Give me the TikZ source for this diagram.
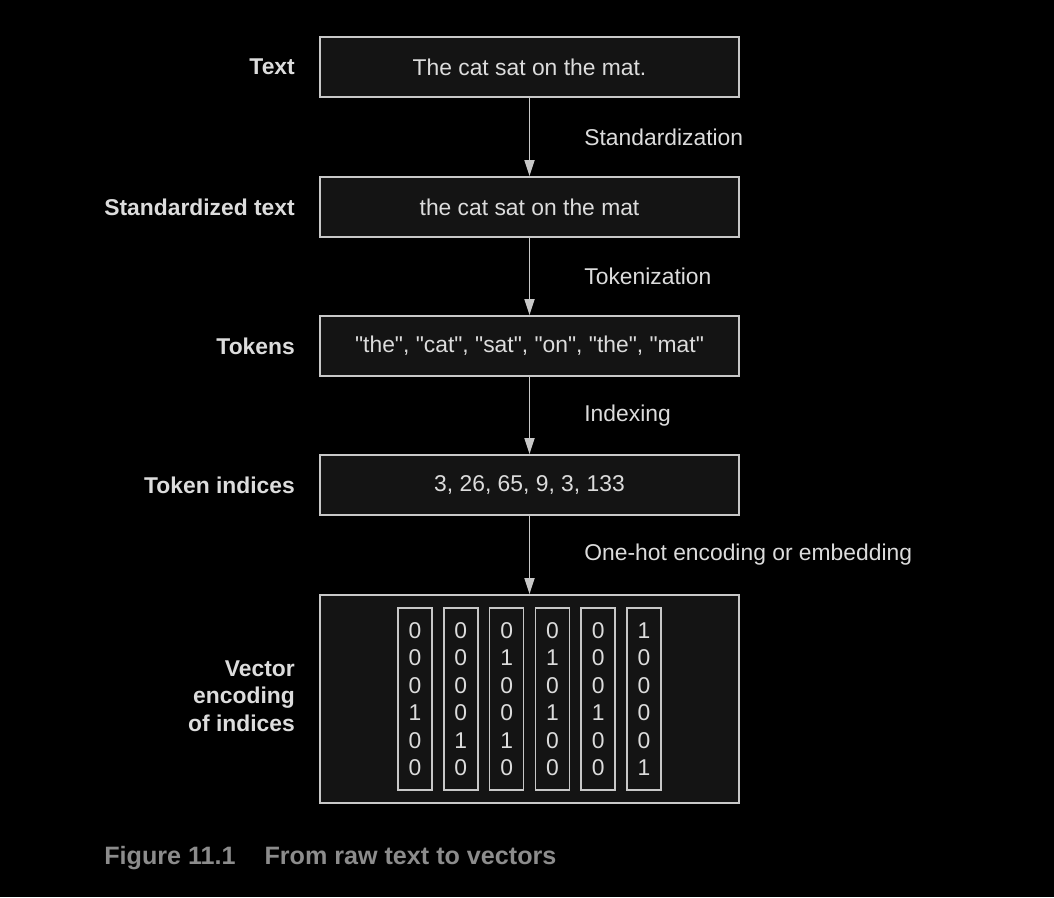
\documentclass[tikz,border=0pt]{standalone}
\usepackage{fontspec}
\setmainfont{Liberation Sans}
\usepackage{tikz}
\usetikzlibrary{arrows.meta, positioning}
\definecolor{boxfill}{HTML}{141414}
\definecolor{boxline}{HTML}{C8C8C8}
\definecolor{textgray}{HTML}{DCDCDC}
\definecolor{capgray}{HTML}{8C8C8C}

\begin{document}
\begin{tikzpicture}[
  stagebox/.style={rectangle, draw=boxline, fill=boxfill, line width=1pt, minimum width=8.38cm, minimum height=1.2cm, text=textgray, font=\fontsize{13}{15.6}\selectfont},
  sidelabel/.style={inner sep=0pt, text=textgray, font=\fontsize{13}{15.6}\selectfont\bfseries, align=right},
  steplabel/.style={inner sep=0pt, text=textgray, font=\fontsize{13}{15.6}\selectfont},
  onehot/.style={rectangle, draw=boxline, line width=1pt, minimum width=0.68cm, minimum height=3.64cm, inner sep=0pt, text=textgray, align=center, font=\fontsize{13}{15.6}\selectfont},
  arrow/.style={-{Triangle[length=0.32cm, width=0.2cm]}, line width=1pt, draw=boxline}
]
  \fill[black] (0,0) rectangle (21.08,-17.94);
  \useasboundingbox (0,0) rectangle (21.08,-17.94);

  \node[stagebox] (t1) at (10.59,-1.34) {The cat sat on the mat.};
  \node[stagebox] (t2) at (10.59,-4.14) {the cat sat on the mat};
  \node[stagebox] (t3) at (10.59,-6.92) {\textquotedbl the\textquotedbl, \textquotedbl cat\textquotedbl, \textquotedbl sat\textquotedbl, \textquotedbl on\textquotedbl, \textquotedbl the\textquotedbl, \textquotedbl mat\textquotedbl};
  \node[stagebox] (t4) at (10.59,-9.70) {3, 26, 65, 9, 3, 133};
  \node[stagebox, minimum height=4.16cm] (t5) at (10.59,-13.98) {};

  % one-hot columns
  \foreach \a/\b/\c/\d/\e/\f [count=\i from 0] in {0/0/0/1/0/0, 0/0/0/0/1/0, 0/1/0/0/1/0, 0/1/0/1/0/0, 0/0/0/1/0/0, 1/0/0/0/0/1}
    \node[onehot] (v\i) at (8.30+0.916*\i,-13.98) {\a\\\b\\\c\\\d\\\e\\\f};

  \node[sidelabel, left=0.48cm of t1] (l1) {Text};
  \node[sidelabel, left=0.48cm of t2] (l2) {Standardized text};
  \node[sidelabel, left=0.48cm of t3] (l3) {Tokens};
  \node[sidelabel, left=0.48cm of t4] (l4) {Token indices};
  \node[sidelabel, left=0.48cm of t5, yshift=0.06cm] (l5) {Vector\\encoding\\of indices};

  \draw[arrow] (t1) -- node[steplabel, midway, right=1.08cm] {Standardization} (t2);
  \draw[arrow] (t2) -- node[steplabel, midway, right=1.08cm] {Tokenization} (t3);
  \draw[arrow] (t3) -- node[steplabel, midway, right=1.08cm] {Indexing} (t4);
  \draw[arrow] (t4) -- node[steplabel, midway, right=1.08cm] {One-hot encoding or embedding} (t5);

  \node[anchor=west, inner sep=0pt, text=capgray, font=\fontsize{14.3}{17}\selectfont\bfseries] (cap) at (2.08,-17.16) {Figure 11.1\hspace{1.15em}From raw text to vectors};
\end{tikzpicture}
\end{document}
